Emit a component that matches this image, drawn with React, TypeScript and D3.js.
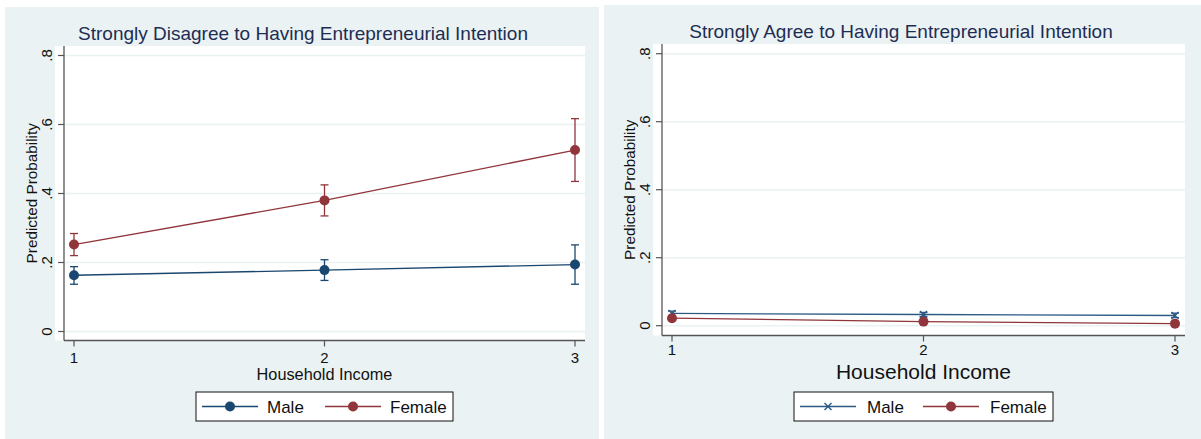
import React from "react";
import * as d3 from "d3";

const incomeLevels = [1, 2, 3];
const yTicks = [0, 0.2, 0.4, 0.6, 0.8];
const yTickLabels = ["0", ".2", ".4", ".6", ".8"];

// Left panel: Strongly Disagree
const disMale = [0.163, 0.178, 0.194];
const disMaleLo = [0.137, 0.148, 0.137];
const disMaleHi = [0.188, 0.208, 0.251];
const disFemale = [0.252, 0.38, 0.526];
const disFemaleLo = [0.22, 0.335, 0.435];
const disFemaleHi = [0.284, 0.425, 0.617];

// Right panel: Strongly Agree
const agrMale = [0.036, 0.033, 0.03];
const agrMaleLo = [0.03, 0.027, 0.024];
const agrMaleHi = [0.043, 0.039, 0.037];
const agrFemale = [0.022, 0.012, 0.006];
const agrFemaleLo = [0.018, 0.009, 0.004];
const agrFemaleHi = [0.027, 0.015, 0.009];

const NAVY = "#1a476f";
const MAROON = "#90353b";
const BG = "#eaf2f3";
const FONT = "'Liberation Sans', Arial, sans-serif";

type Series = {
  name: string;
  vals: number[];
  lo: number[];
  hi: number[];
  color: string;
  marker: "circle" | "x";
};

type PanelProps = {
  x0: number;
  y0: number;
  w: number;
  h: number;
  title: string;
  titleX: number;
  titleY: number;
  plotLeft: number;
  plotRight: number;
  plotTop: number;
  axisY: number;
  xRange: [number, number];
  yRange: [number, number];
  xTickOffset: number;
  xTitleSize: number;
  xTitleY: number;
  series: Series[];
  legend: { x: number; y: number; w: number; h: number; items: { lx: number; tx: number }[] };
};

function Marker({ type, x, y, color }: { type: string; x: number; y: number; color: string }) {
  if (type === "x") {
    const s = 3.5;
    return (
      <g stroke={color} strokeWidth={1.4}>
        <line x1={x - s} y1={y - s} x2={x + s} y2={y + s} />
        <line x1={x - s} y1={y + s} x2={x + s} y2={y - s} />
      </g>
    );
  }
  return <circle cx={x} cy={y} r={5} fill={color} />;
}

function Panel(p: PanelProps) {
  const xs = d3.scaleLinear().domain([1, 3]).range(p.xRange);
  const ys = d3.scaleLinear().domain([0, 0.8]).range(p.yRange);
  const line = d3
    .line<number>()
    .x((_, i) => xs(incomeLevels[i]))
    .y((d) => ys(d));
  const axisX = p.plotLeft + 9;
  return (
    <g>
      <rect x={p.x0} y={p.y0} width={p.w} height={p.h} fill={BG} />
      <text x={p.titleX} y={p.titleY} textAnchor="middle" fontFamily={FONT} fontSize={19} fill="#1e2d53">
        {p.title}
      </text>
      <rect x={p.plotLeft} y={p.plotTop} width={p.plotRight - p.plotLeft} height={p.axisY - p.plotTop} fill="#fff" />
      {yTicks.map((t) => (
        <line key={"g" + t} x1={axisX} x2={p.plotRight} y1={ys(t)} y2={ys(t)} stroke={BG} strokeWidth={1.6} />
      ))}
      {/* y axis */}
      <line x1={axisX} x2={axisX} y1={p.plotTop} y2={p.axisY} stroke="#555" strokeWidth={1.3} />
      {yTicks.map((t, i) => (
        <g key={"yt" + t}>
          <line x1={axisX - 6} x2={axisX} y1={ys(t)} y2={ys(t)} stroke="#555" strokeWidth={1.2} />
          <text
            transform={`translate(${axisX - 12},${ys(t)}) rotate(-90)`}
            textAnchor="middle"
            fontFamily={FONT}
            fontSize={15}
            fill="#111"
          >
            {yTickLabels[i]}
          </text>
        </g>
      ))}
      <text
        transform={`translate(${axisX - 27},${(p.plotTop + p.axisY) / 2}) rotate(-90)`}
        textAnchor="middle"
        fontFamily={FONT}
        fontSize={15.3}
        fill="#111"
      >
        Predicted Probability
      </text>
      {/* x axis */}
      <line x1={axisX} x2={p.plotRight} y1={p.axisY} y2={p.axisY} stroke="#555" strokeWidth={1.3} />
      {incomeLevels.map((v) => (
        <g key={"xt" + v}>
          <line x1={xs(v)} x2={xs(v)} y1={p.axisY} y2={p.axisY + 6} stroke="#555" strokeWidth={1.2} />
          <text
            x={xs(v)}
            y={p.axisY + p.xTickOffset}
            textAnchor="middle"
            fontFamily={FONT}
            fontSize={15}
            fill="#111"
          >
            {v}
          </text>
        </g>
      ))}
      <text
        x={xs(2)}
        y={p.xTitleY}
        textAnchor="middle"
        fontFamily={FONT}
        fontSize={p.xTitleSize}
        fill="#111"
      >
        Household Income
      </text>
      {/* series */}
      {p.series.map((s) => (
        <g key={s.name}>
          <path d={line(s.vals) || ""} fill="none" stroke={s.color} strokeWidth={1.3} />
          {s.vals.map((v, i) => {
            const cx = xs(incomeLevels[i]);
            return (
              <g key={i} stroke={s.color} strokeWidth={1.3}>
                <line x1={cx} x2={cx} y1={ys(s.lo[i])} y2={ys(s.hi[i])} />
                <line x1={cx - 4} x2={cx + 4} y1={ys(s.lo[i])} y2={ys(s.lo[i])} />
                <line x1={cx - 4} x2={cx + 4} y1={ys(s.hi[i])} y2={ys(s.hi[i])} />
              </g>
            );
          })}
          {s.vals.map((v, i) => (
            <Marker key={"m" + i} type={s.marker} x={xs(incomeLevels[i])} y={ys(v)} color={s.color} />
          ))}
        </g>
      ))}
      {/* legend */}
      <rect
        x={p.legend.x}
        y={p.legend.y}
        width={p.legend.w}
        height={p.legend.h}
        fill="#fff"
        stroke="#111"
        strokeWidth={1}
      />
      {p.series.map((s, i) => {
        const it = p.legend.items[i];
        const cy = p.legend.y + p.legend.h / 2;
        return (
          <g key={"lg" + s.name}>
            <line x1={it.lx} x2={it.lx + 56} y1={cy} y2={cy} stroke={s.color} strokeWidth={1.3} />
            <Marker type={s.marker} x={it.lx + 28} y={cy} color={s.color} />
            <text x={it.tx} y={cy + 6} fontFamily={FONT} fontSize={17} fill="#111">
              {s.name}
            </text>
          </g>
        );
      })}
    </g>
  );
}

export default function App() {
  const leftSeries: Series[] = [
    { name: "Male", vals: disMale, lo: disMaleLo, hi: disMaleHi, color: NAVY, marker: "circle" },
    { name: "Female", vals: disFemale, lo: disFemaleLo, hi: disFemaleHi, color: MAROON, marker: "circle" },
  ];
  const rightSeries: Series[] = [
    { name: "Male", vals: agrMale, lo: agrMaleLo, hi: agrMaleHi, color: "#2c5a85", marker: "x" },
    { name: "Female", vals: agrFemale, lo: agrFemaleLo, hi: agrFemaleHi, color: MAROON, marker: "circle" },
  ];
  return (
    <div style={{ position: "absolute", left: 0, top: 0 }}>
      <svg width={1201} height={439} style={{ display: "block", background: "#fff" }}>
        <Panel
          x0={5}
          y0={7}
          w={594}
          h={432}
          title="Strongly Disagree to Having Entrepreneurial Intention"
          titleX={303}
          titleY={40}
          plotLeft={55}
          plotRight={585}
          plotTop={46}
          axisY={340.5}
          xRange={[74, 575]}
          yRange={[331.5, 55.5]}
          xTickOffset={22}
          xTitleSize={16.3}
          xTitleY={380}
          series={leftSeries}
          legend={{ x: 196, y: 392, w: 257, h: 29, items: [{ lx: 202, tx: 267 }, { lx: 325, tx: 390 }] }}
        />
        <Panel
          x0={604}
          y0={5}
          w={597}
          h={434}
          title="Strongly Agree to Having Entrepreneurial Intention"
          titleX={901}
          titleY={38}
          plotLeft={653}
          plotRight={1185}
          plotTop={44}
          axisY={335.5}
          xRange={[672, 1175]}
          yRange={[325.7, 53.7]}
          xTickOffset={19.5}
          xTitleSize={21}
          xTitleY={379}
          series={rightSeries}
          legend={{ x: 794, y: 392, w: 259, h: 29, items: [{ lx: 800, tx: 867 }, { lx: 923, tx: 990 }] }}
        />
      </svg>
    </div>
  );
}
